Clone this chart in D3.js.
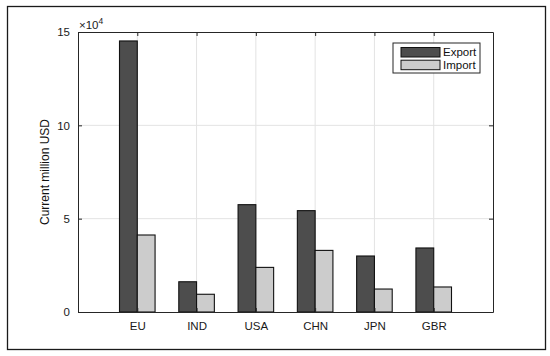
<!DOCTYPE html>
<html>
<head>
<meta charset="utf-8">
<script src="https://cdn.jsdelivr.net/npm/d3@7/dist/d3.min.js"></script>
<style>
  html, body { margin: 0; padding: 0; background: #fff; }
  svg { display: block; font-family: "Liberation Sans", Arial, Helvetica, sans-serif; }
</style>
</head>
<body>
<svg id="chart" width="550" height="356"></svg>
<script>
const categories = ["EU", "IND", "USA", "CHN", "JPN", "GBR"];
const exportValues = [145200, 16200, 57500, 54300, 30000, 34300];
const importValues = [41250, 9500, 23900, 33000, 12300, 13400];
const yTicks = [0, 50000, 100000, 150000];
const seriesNames = ["Export", "Import"];
const seriesColors = ["#4d4d4d", "#cccccc"];

const svg = d3.select("#chart");
const pL = 78, pR = 493, pT = 32, pB = 312;
const axisColor = "#262626";

// outer frame
svg.append("rect").attr("x", 7.5).attr("y", 6.5).attr("width", 538).attr("height", 343)
  .attr("fill", "#fff").attr("stroke", "#1a1a1a").attr("stroke-width", 1.3);

const x = d3.scaleLinear().domain([0, 7]).range([pL, pR]);
const y = d3.scaleLinear().domain([0, 150000]).range([pB, pT]);

// grid
const g = svg.append("g");
g.selectAll(".vg").data(categories).enter().append("line")
  .attr("x1", (d, i) => x(i + 1)).attr("x2", (d, i) => x(i + 1))
  .attr("y1", pT).attr("y2", pB)
  .attr("stroke", "#e3e3e3").attr("stroke-width", 1);
g.selectAll(".hg").data(yTicks.slice(1, -1)).enter().append("line")
  .attr("x1", pL).attr("x2", pR)
  .attr("y1", d => y(d)).attr("y2", d => y(d))
  .attr("stroke", "#e3e3e3").attr("stroke-width", 1);

// bars
const bw = 0.30;
const series = [exportValues, importValues];
series.forEach((vals, s) => {
  svg.append("g").selectAll("rect").data(vals).enter().append("rect")
    .attr("x", (d, i) => x(i + 1 + (s === 0 ? -bw : 0)))
    .attr("width", x(bw) - x(0))
    .attr("y", d => y(d))
    .attr("height", d => y(0) - y(d))
    .attr("fill", seriesColors[s])
    .attr("stroke", "#111").attr("stroke-width", 1.1);
});

// axes
const axB = d3.axisBottom(x).tickValues(d3.range(1, 7)).tickFormat((d) => categories[d - 1])
  .tickSizeInner(-4).tickSizeOuter(0).tickPadding(10);
const axT = d3.axisTop(x).tickValues(d3.range(1, 7)).tickFormat("")
  .tickSizeInner(-4).tickSizeOuter(0);
const axL = d3.axisLeft(y).tickValues(yTicks).tickFormat(d => d / 10000)
  .tickSizeInner(-4).tickSizeOuter(0).tickPadding(8);
const axR = d3.axisRight(y).tickValues(yTicks).tickFormat("")
  .tickSizeInner(-4).tickSizeOuter(0);

function style(sel) {
  sel.selectAll("path").attr("stroke", axisColor).attr("stroke-width", 1);
  sel.selectAll("line").attr("stroke", axisColor);
  sel.selectAll("text").attr("fill", "#1a1a1a").style("font-size", "11.5px");
}
svg.append("g").attr("transform", `translate(0,${pB})`).call(axB).call(style);
svg.append("g").attr("transform", `translate(0,${pT})`).call(axT).call(style);
svg.append("g").attr("transform", `translate(${pL},0)`).call(axL).call(style);
svg.append("g").attr("transform", `translate(${pR},0)`).call(axR).call(style);

// exponent label
const ex = svg.append("text").attr("x", 79).attr("y", 29).attr("fill", "#1a1a1a")
  .style("font-size", "11.5px");
ex.append("tspan").text("\u00d710");
ex.append("tspan").attr("dy", -5).style("font-size", "8.5px").text("4");

// y label
svg.append("text").attr("transform", `translate(49,${(pT + pB) / 2}) rotate(-90)`)
  .attr("text-anchor", "middle").attr("fill", "#111").style("font-size", "12px")
  .text("Current million USD");

// legend
const lg = svg.append("g");
lg.append("rect").attr("x", 393).attr("y", 43).attr("width", 87).attr("height", 30)
  .attr("fill", "#fff").attr("stroke", axisColor).attr("stroke-width", 1);
seriesNames.forEach((n, i) => {
  lg.append("rect").attr("x", 401).attr("y", 47.5 + i * 12.7).attr("width", 39).attr("height", 9.5)
    .attr("fill", seriesColors[i]).attr("stroke", "#111").attr("stroke-width", 1);
  lg.append("text").attr("x", 443).attr("y", 56 + i * 12.7).attr("fill", "#111")
    .style("font-size", "11.5px").text(n);
});
</script>
</body>
</html>
